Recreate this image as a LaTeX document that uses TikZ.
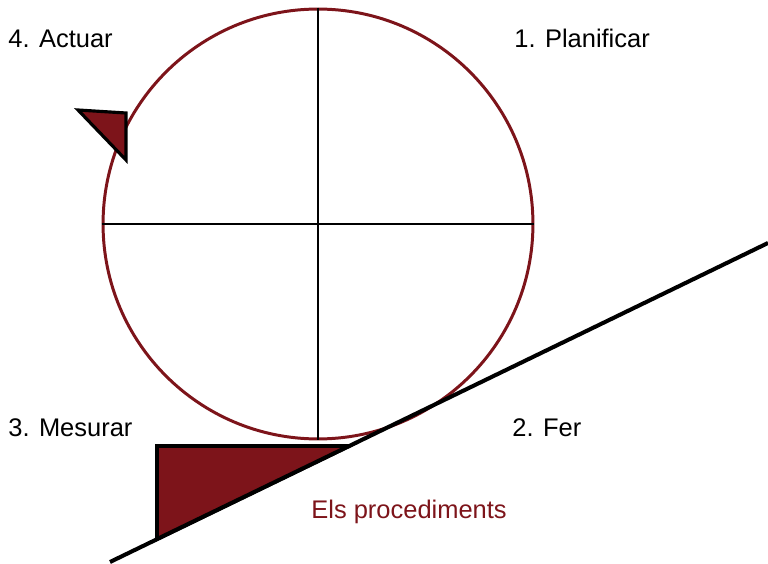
\documentclass[tikz,border=0pt]{standalone}
\usepackage{fontspec}
\setmainfont{Liberation Sans}
\usetikzlibrary{positioning, calc}
\definecolor{mymaroon}{RGB}{125,20,26}
\tikzset{
  steplabel/.style={anchor=base west, inner sep=0pt,
    font=\fontsize{14.5}{17}\selectfont},
  crossline/.style={draw=black, line width=1.1pt},
  wedge/.style={draw=black, fill=mymaroon, line width=2.2pt, line join=miter},
  slope/.style={draw=black, line width=2.3pt}
}

\begin{document}
\begin{tikzpicture}[x=0.02cm, y=-0.02cm]
  \useasboundingbox (0,0) rectangle (768,564);

  % Cycle (circle with quadrants)
  \node[circle, draw=mymaroon, line width=1.7pt, minimum size=8.6cm, inner sep=0pt] (cycle) at (318,224) {};
  \draw[crossline] (cycle.north) -- (cycle.south);
  \draw[crossline] (cycle.west) -- (cycle.east);

  % Inclined plane
  \coordinate (slopeA) at (110,562);
  \coordinate (slopeB) at (768,243);
  \draw[slope] (slopeA) -- (slopeB);

  % Wedge under the circle
  \coordinate (wedgeTop) at (157,446);
  \coordinate (wedgeBot) at (157,539);
  \coordinate (wedgeTip) at (349,446);
  \draw[wedge] (wedgeTop) -- (wedgeTip) -- (wedgeBot) -- cycle;

  % Small arrow triangle on the circle
  \draw[wedge, line width=1.8pt] (78,110) -- (126,113) -- (126,160) -- cycle;

  % Labels
  \node[steplabel] (actuar) at (8,48) {4. Actuar};
  \node[steplabel] (planificar) at (514,48) {1. Planificar};
  \node[steplabel] (mesurar) at (8,437) {3. Mesurar};
  \node[steplabel] (fer) at (512,437) {2. Fer};
  \node[steplabel, text=mymaroon] (procs) at (311,518) {Els procediments};
\end{tikzpicture}
\end{document}
